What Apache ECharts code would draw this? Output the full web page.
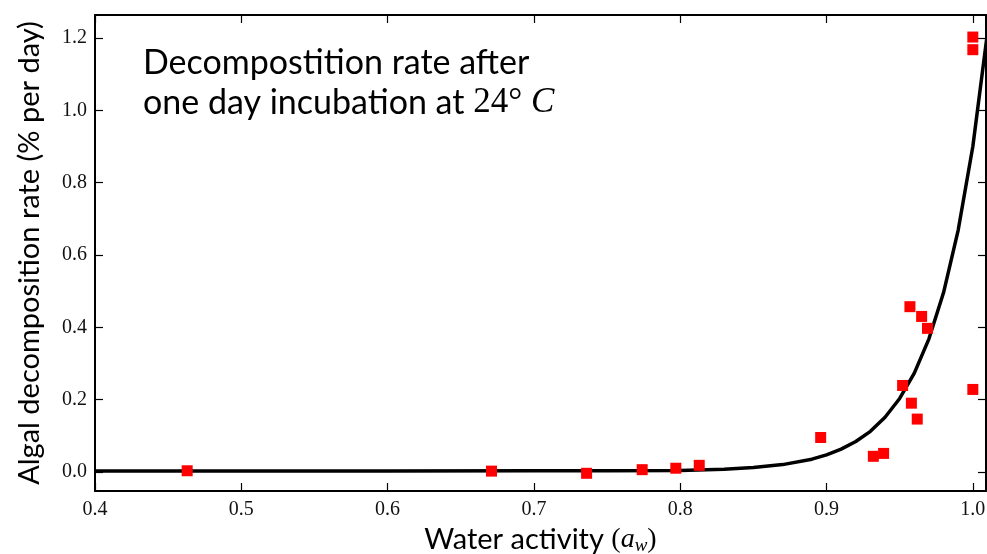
<!DOCTYPE html>
<html>
<head>
<meta charset="utf-8">
<script src="https://cdn.jsdelivr.net/npm/echarts@6/dist/echarts.min.js"></script>
<style>
html,body{margin:0;padding:0;background:#fff;}
#chart{width:987px;height:554px;}
</style>
</head>
<body>
<div id="chart"></div>
<script>
// Measured samples: water activity vs decomposition rate
const sampleX = [0.463, 0.671, 0.736, 0.774, 0.797, 0.813, 0.896, 0.932, 0.939, 0.952, 0.957, 0.958, 0.962, 0.965, 0.969, 1.000, 1.000, 1.000];
const sampleY = [0.003, 0.002, -0.004, 0.006, 0.010, 0.018, 0.095, 0.043, 0.051, 0.239, 0.457, 0.190, 0.146, 0.430, 0.397, 0.228, 1.203, 1.168];

// Fitted curve
const curveX = [0.40, 0.50, 0.60, 0.70, 0.75, 0.80, 0.83, 0.85, 0.87, 0.89, 0.90, 0.91, 0.92, 0.93, 0.94, 0.95, 0.96, 0.97, 0.98, 0.99, 1.00, 1.01];
const curveY = [0.002, 0.002, 0.002, 0.003, 0.003, 0.004, 0.007, 0.012, 0.020, 0.035, 0.047, 0.063, 0.084, 0.112, 0.151, 0.203, 0.273, 0.368, 0.496, 0.669, 0.900, 1.215];

const xTicks = [0.4, 0.5, 0.6, 0.7, 0.8, 0.9, 1.0];
const yTicks = [0.0, 0.2, 0.4, 0.6, 0.8, 1.0, 1.2];

const xMin = 0.4, xMax = 1.009;
const yMin = -0.053, yMax = 1.264;

const serif = '"Liberation Serif", "DejaVu Serif", serif';
const sans = 'Lato, "DejaVu Sans", sans-serif';

const chart = echarts.init(document.getElementById('chart'), null, {renderer: 'canvas'});

const lineStyle = {color: '#000', width: 2};
const tickStyle = {color: '#000', width: 1.2};

function xAxisDef(pos, show) {
  return {
    type: 'value', position: pos, min: xMin, max: xMax,
    axisLine: {show: true, onZero: false, lineStyle: lineStyle},
    axisTick: {show: true, inside: true, length: 8, lineStyle: tickStyle, customValues: xTicks},
    axisLabel: {show: show, customValues: xTicks, color: '#111', fontFamily: serif, fontSize: 20, margin: 9,
      formatter: v => v.toFixed(1)},
    splitLine: {show: false}
  };
}
function yAxisDef(pos, show) {
  return {
    type: 'value', position: pos, min: yMin, max: yMax,
    axisLine: {show: true, onZero: false, lineStyle: lineStyle},
    axisTick: {show: true, inside: true, length: 8, lineStyle: tickStyle, customValues: yTicks},
    axisLabel: {show: show, customValues: yTicks, color: '#111', fontFamily: serif, fontSize: 20, margin: 8,
      formatter: v => v.toFixed(1)},
    splitLine: {show: false}
  };
}

const xa0 = xAxisDef('bottom', true);
xa0.name = '{t|Water activity }{p|(}{i|a}{s|w}{p|)}';
xa0.nameLocation = 'middle';
xa0.nameGap = 33;
xa0.nameTextStyle = {
  rich: {
    t: {fontFamily: sans, fontSize: 29, color: '#000'},
    p: {fontFamily: serif, fontSize: 28, color: '#000'},
    i: {fontFamily: serif, fontStyle: 'italic', fontSize: 28, color: '#000'},
    s: {fontFamily: serif, fontStyle: 'italic', fontSize: 19, color: '#000', padding: [12, 0, 0, 0]}
  }
};
const ya0 = yAxisDef('left', true);
ya0.name = 'Algal decomposition rate (% per day)';
ya0.nameLocation = 'middle';
ya0.nameGap = 51;
ya0.nameTextStyle = {fontFamily: sans, fontSize: 29, color: '#000'};

const option = {
  animation: false,
  backgroundColor: '#fff',
  grid: {left: 95, right: 1, top: 15, bottom: 63, containLabel: false, outerBoundsMode: 'none'},
  title: {
    text: '{t|Decompostition rate after}\n{t|one day incubation at }{m|24° }{c|C}',
    left: 138, top: 38,
    textStyle: {
      fontWeight: 'normal',
      rich: {
        t: {fontFamily: sans, fontWeight: 'normal', fontSize: 34, color: '#000', lineHeight: 40},
        m: {fontFamily: serif, fontWeight: 'normal', fontSize: 35, color: '#000', lineHeight: 40},
        c: {fontFamily: serif, fontWeight: 'normal', fontStyle: 'italic', fontSize: 35, color: '#000', lineHeight: 40}
      }
    }
  },
  xAxis: [xa0, xAxisDef('top', false)],
  yAxis: [ya0, yAxisDef('right', false)],
  series: [
    {
      type: 'line', xAxisIndex: 0, yAxisIndex: 0,
      data: curveX.map((x, i) => [x, curveY[i]]),
      showSymbol: false, smooth: false, clip: true,
      lineStyle: {color: '#000', width: 3.5},
      z: 2
    },
    {
      type: 'scatter', xAxisIndex: 0, yAxisIndex: 0,
      data: sampleX.map((x, i) => [x, sampleY[i]]),
      symbol: 'rect', symbolSize: 11,
      itemStyle: {color: '#ff0000', opacity: 1},
      z: 3
    }
  ]
};
chart.setOption(option);
</script>
</body>
</html>
